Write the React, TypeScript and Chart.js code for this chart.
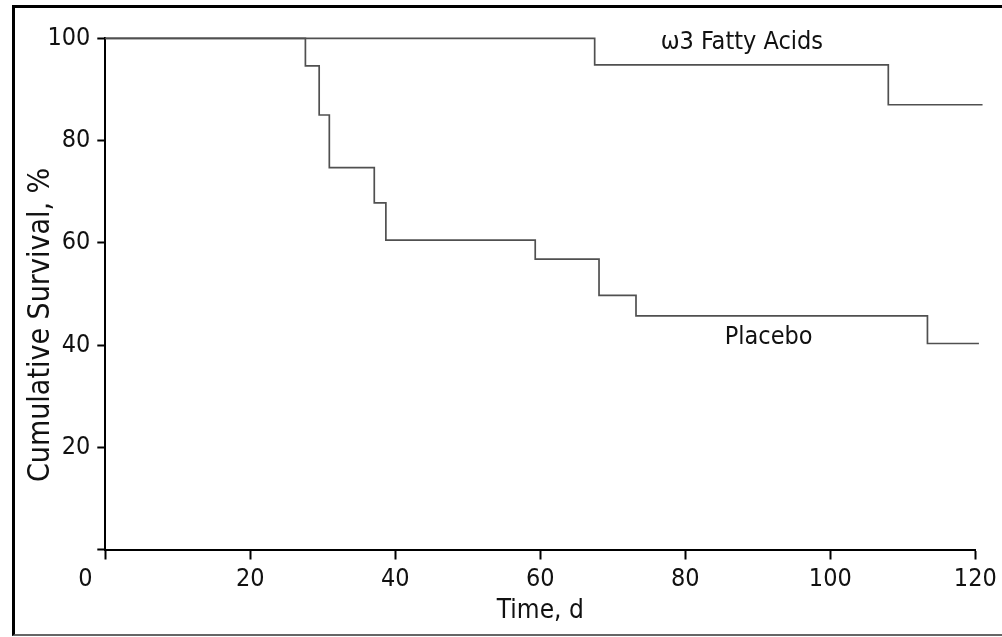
import React, { useEffect, useRef } from 'react';
import { Chart, registerables } from 'chart.js';

Chart.register(...registerables);

// ---- data ----
const placeboTime = [0, 27.6, 29.5, 30.9, 37.1, 38.7, 59.3, 68.1, 73.2, 113.4, 120.5];
const placeboSurvival = [100, 94.6, 85.0, 74.7, 67.8, 60.5, 56.8, 49.7, 45.7, 40.3, 40.3];
const omega3Time = [0, 67.5, 108.0, 121.0];
const omega3Survival = [100, 94.8, 87.0, 87.0];

const xTickValues = [0, 20, 40, 60, 80, 100, 120];
const yTickValues = [0, 20, 40, 60, 80, 100];

const seriesNames = ['ω3 Fatty Acids', 'Placebo'];
const seriesLabelTime = [87.8, 91.5];
const seriesLabelSurvival = [99.1, 41.5];

const xTitle = 'Time, d';
const yTitle = 'Cumulative Survival, %';
const originLabel = '0';

// ---- styles ----
const FONT = "'Liberation Sans Narrow', 'DejaVu Sans Condensed', 'Arial Narrow', sans-serif";
const TICK_SIZE = 25;
const XTITLE_SIZE = 26;
const YTITLE_SIZE = 30;
const NOTE_SIZE = 25;
const TEXT_COLOR = '#111111';
const LINE_COLOR = '#505050';

const W = 1002;
const H = 637;

const textPlugin = {
  id: 'kmText',
  afterDraw(chart: any) {
    const { ctx, scales, chartArea } = chart;
    const xs = scales.x;
    const ys = scales.y;
    ctx.save();
    ctx.fillStyle = TEXT_COLOR;
    ctx.textAlign = 'center';
    ctx.textBaseline = 'middle';
    // curve labels
    ctx.font = `${NOTE_SIZE}px ${FONT}`;
    seriesNames.forEach((name, i) => {
      ctx.fillText(name, xs.getPixelForValue(seriesLabelTime[i]), ys.getPixelForValue(seriesLabelSurvival[i]));
    });
    // shared origin label on the x tick label row
    ctx.font = `${TICK_SIZE}px ${FONT}`;
    ctx.fillText(originLabel, xs.getPixelForValue(0) - 20, ys.getPixelForValue(0) + 30);
    // y axis title
    ctx.font = `${YTITLE_SIZE}px ${FONT}`;
    ctx.translate(ys.left + 41, (chartArea.top + chartArea.bottom) / 2 + 31);
    ctx.rotate(-Math.PI / 2);
    ctx.fillText(yTitle, 0, 0);
    ctx.restore();
  },
};

export default function App() {
  const ref = useRef<HTMLCanvasElement | null>(null);

  useEffect(() => {
    const canvas = ref.current;
    if (!canvas) return;
    const chart = new Chart(canvas, {
      type: 'line',
      data: {
        datasets: [
          {
            label: seriesNames[0],
            data: omega3Time.map((t, i) => ({ x: t, y: omega3Survival[i] })),
            stepped: 'before',
            borderColor: LINE_COLOR,
            borderWidth: 1.7,
            pointRadius: 0,
            fill: false,
            clip: false,
          },
          {
            label: seriesNames[1],
            data: placeboTime.map((t, i) => ({ x: t, y: placeboSurvival[i] })),
            stepped: 'before',
            borderColor: LINE_COLOR,
            borderWidth: 1.7,
            pointRadius: 0,
            fill: false,
            clip: false,
          },
        ],
      },
      options: {
        responsive: false,
        animation: false,
        events: [],
        layout: { padding: { top: 38.3, right: 26.7, left: 0, bottom: 0 } },
        plugins: {
          legend: { display: false },
          tooltip: { enabled: false },
        },
        scales: {
          x: {
            type: 'linear',
            min: 0,
            max: 120,
            afterBuildTicks: (scale: any) => {
              scale.ticks = xTickValues.map((v) => ({ value: v }));
            },
            afterFit: (scale: any) => {
              scale.height = H - 549.5;
            },
            grid: {
              drawOnChartArea: false,
              drawTicks: true,
              tickLength: 10,
              tickWidth: 2,
              tickColor: '#000',
            },
            border: { display: true, color: '#000', width: 2 },
            ticks: {
              autoSkip: false,
              maxRotation: 0,
              padding: 5,
              color: TEXT_COLOR,
              font: { family: FONT, size: TICK_SIZE },
              callback: (v: any) => (v === 0 ? '' : String(v)),
            },
            title: {
              display: true,
              text: xTitle,
              color: TEXT_COLOR,
              font: { family: FONT, size: XTITLE_SIZE, lineHeight: 1.2 },
              padding: { top: 0, bottom: 10 },
            },
          },
          y: {
            type: 'linear',
            min: 0,
            max: 100,
            afterBuildTicks: (scale: any) => {
              scale.ticks = yTickValues.map((v) => ({ value: v }));
            },
            afterFit: (scale: any) => {
              scale.width = 105.3;
            },
            grid: {
              drawOnChartArea: false,
              drawTicks: true,
              tickLength: 8,
              tickWidth: 2,
              tickColor: '#000',
            },
            border: { display: true, color: '#000', width: 2 },
            ticks: {
              autoSkip: false,
              padding: 7,
              color: TEXT_COLOR,
              font: { family: FONT, size: TICK_SIZE },
              callback: (v: any) => (v === 0 ? '' : String(v)),
            },
            title: { display: false, text: yTitle },
          },
        },
      },
      plugins: [textPlugin],
    });
    return () => chart.destroy();
  }, []);

  return (
    <div style={{ position: 'absolute', left: 0, top: 0, width: W, height: H, overflow: 'hidden', background: '#fff' }}>
      <canvas ref={ref} width={W} height={H} style={{ position: 'absolute', left: 0, top: 0, width: W, height: H, display: 'block' }} />
      <div
        style={{
          position: 'absolute',
          left: 12,
          top: 5,
          width: 990,
          height: 631,
          boxSizing: 'border-box',
          borderLeft: '3px solid #000',
          borderTop: '3px solid #000',
          borderBottom: '2px solid #666',
          pointerEvents: 'none',
        }}
      />
    </div>
  );
}
